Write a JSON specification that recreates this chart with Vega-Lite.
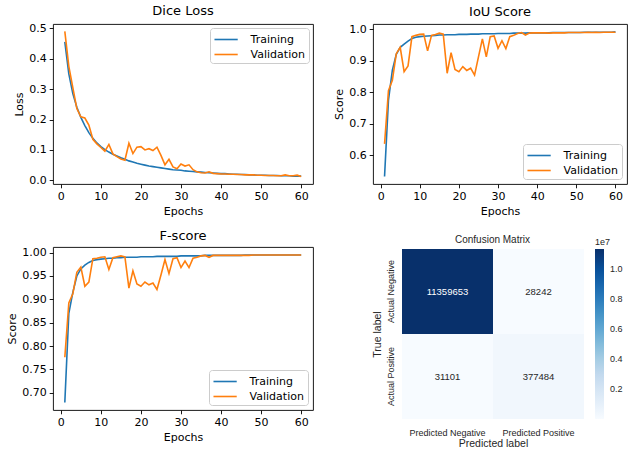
{
"$schema": "https://vega.github.io/schema/vega-lite/v6.json",
"padding": {"left": 6, "top": 4, "right": 0, "bottom": 0},
"background": "white",
"config": {
  "view": {"stroke": "black", "strokeWidth": 0.9},
  "axis": {"domain": false, "grid": false, "tickColor": "black", "tickSize": 3.8, "tickWidth": 0.9, "labelFont": "DejaVu Sans", "labelFontSize": 11, "labelColor": "black", "titleFont": "DejaVu Sans", "titleFontSize": 11, "titleFontWeight": "normal", "titleColor": "black", "labelPadding": 3, "titlePadding": 4},
  "title": {"font": "DejaVu Sans", "fontSize": 13, "fontWeight": "normal", "color": "black", "offset": 4},
  "style": {"guide-title": {"fontWeight": "normal"}, "group-title": {"fontWeight": "normal"}},
  "legend": {"title": null, "offset": 4, "fillColor": "white", "strokeColor": "#cccccc", "cornerRadius": 3, "padding": 3.5, "symbolType": "M-1.66,0H1.66", "symbolSize": 196, "symbolStrokeWidth": 1.6, "symbolOffset": 4.6, "labelFont": "DejaVu Sans", "labelFontSize": 11, "labelColor": "black", "rowPadding": 2, "labelOffset": 16.5},
  "line": {"strokeWidth": 1.6}
},
"datasets": {
  "dice": [
    {"epoch":1,"Training":0.455,"Validation":0.490},{"epoch":2,"Training":0.350,"Validation":0.375},{"epoch":3,"Training":0.285,"Validation":0.305},{"epoch":4,"Training":0.240,"Validation":0.236},{"epoch":5,"Training":0.207,"Validation":0.209},{"epoch":6,"Training":0.180,"Validation":0.205},{"epoch":7,"Training":0.157,"Validation":0.182},{"epoch":8,"Training":0.138,"Validation":0.135},{"epoch":9,"Training":0.123,"Validation":0.120},{"epoch":10,"Training":0.111,"Validation":0.108},
    {"epoch":11,"Training":0.101,"Validation":0.096},{"epoch":12,"Training":0.093,"Validation":0.118},{"epoch":13,"Training":0.086,"Validation":0.087},{"epoch":14,"Training":0.080,"Validation":0.078},{"epoch":15,"Training":0.074,"Validation":0.070},{"epoch":16,"Training":0.069,"Validation":0.066},{"epoch":17,"Training":0.064,"Validation":0.122},{"epoch":18,"Training":0.060,"Validation":0.088},{"epoch":19,"Training":0.056,"Validation":0.109},{"epoch":20,"Training":0.053,"Validation":0.111},
    {"epoch":21,"Training":0.050,"Validation":0.100},{"epoch":22,"Training":0.047,"Validation":0.104},{"epoch":23,"Training":0.045,"Validation":0.098},{"epoch":24,"Training":0.043,"Validation":0.109},{"epoch":25,"Training":0.041,"Validation":0.082},{"epoch":26,"Training":0.039,"Validation":0.051},{"epoch":27,"Training":0.037,"Validation":0.069},{"epoch":28,"Training":0.035,"Validation":0.044},{"epoch":29,"Training":0.034,"Validation":0.038},{"epoch":30,"Training":0.033,"Validation":0.054},
    {"epoch":31,"Training":0.031,"Validation":0.047},{"epoch":32,"Training":0.030,"Validation":0.051},{"epoch":33,"Training":0.029,"Validation":0.035},{"epoch":34,"Training":0.028,"Validation":0.028},{"epoch":35,"Training":0.027,"Validation":0.025},{"epoch":36,"Training":0.026,"Validation":0.024},{"epoch":37,"Training":0.025,"Validation":0.028},{"epoch":38,"Training":0.024,"Validation":0.023},{"epoch":39,"Training":0.023,"Validation":0.022},{"epoch":40,"Training":0.022,"Validation":0.021},
    {"epoch":41,"Training":0.022,"Validation":0.021},{"epoch":42,"Training":0.021,"Validation":0.020},{"epoch":43,"Training":0.020,"Validation":0.020},{"epoch":44,"Training":0.020,"Validation":0.019},{"epoch":45,"Training":0.019,"Validation":0.019},{"epoch":46,"Training":0.019,"Validation":0.018},{"epoch":47,"Training":0.018,"Validation":0.018},{"epoch":48,"Training":0.018,"Validation":0.018},{"epoch":49,"Training":0.017,"Validation":0.017},{"epoch":50,"Training":0.017,"Validation":0.017},
    {"epoch":51,"Training":0.017,"Validation":0.016},{"epoch":52,"Training":0.016,"Validation":0.016},{"epoch":53,"Training":0.016,"Validation":0.016},{"epoch":54,"Training":0.016,"Validation":0.015},{"epoch":55,"Training":0.015,"Validation":0.015},{"epoch":56,"Training":0.015,"Validation":0.018},{"epoch":57,"Training":0.015,"Validation":0.015},{"epoch":58,"Training":0.014,"Validation":0.015},{"epoch":59,"Training":0.014,"Validation":0.017},{"epoch":60,"Training":0.014,"Validation":0.013}
  ],
  "iou": [
    {"epoch":1,"Training":0.533,"Validation":0.636},{"epoch":2,"Training":0.775,"Validation":0.805},{"epoch":3,"Training":0.870,"Validation":0.838},{"epoch":4,"Training":0.920,"Validation":0.922},{"epoch":5,"Training":0.942,"Validation":0.942},{"epoch":6,"Training":0.952,"Validation":0.865},{"epoch":7,"Training":0.962,"Validation":0.883},{"epoch":8,"Training":0.970,"Validation":0.976},{"epoch":9,"Training":0.974,"Validation":0.980},{"epoch":10,"Training":0.976,"Validation":0.983},
    {"epoch":11,"Training":0.977,"Validation":0.984},{"epoch":12,"Training":0.978,"Validation":0.931},{"epoch":13,"Training":0.979,"Validation":0.980},{"epoch":14,"Training":0.980,"Validation":0.983},{"epoch":15,"Training":0.981,"Validation":0.987},{"epoch":16,"Training":0.981,"Validation":0.984},{"epoch":17,"Training":0.982,"Validation":0.860},{"epoch":18,"Training":0.982,"Validation":0.925},{"epoch":19,"Training":0.982,"Validation":0.872},{"epoch":20,"Training":0.983,"Validation":0.865},
    {"epoch":21,"Training":0.983,"Validation":0.881},{"epoch":22,"Training":0.983,"Validation":0.869},{"epoch":23,"Training":0.984,"Validation":0.876},{"epoch":24,"Training":0.984,"Validation":0.854},{"epoch":25,"Training":0.984,"Validation":0.912},{"epoch":26,"Training":0.985,"Validation":0.969},{"epoch":27,"Training":0.985,"Validation":0.912},{"epoch":28,"Training":0.985,"Validation":0.976},{"epoch":29,"Training":0.985,"Validation":0.978},{"epoch":30,"Training":0.986,"Validation":0.939},
    {"epoch":31,"Training":0.986,"Validation":0.963},{"epoch":32,"Training":0.986,"Validation":0.938},{"epoch":33,"Training":0.986,"Validation":0.976},{"epoch":34,"Training":0.987,"Validation":0.980},{"epoch":35,"Training":0.987,"Validation":0.986},{"epoch":36,"Training":0.987,"Validation":0.989},{"epoch":37,"Training":0.987,"Validation":0.981},{"epoch":38,"Training":0.988,"Validation":0.987},{"epoch":39,"Training":0.988,"Validation":0.988},{"epoch":40,"Training":0.988,"Validation":0.988},
    {"epoch":41,"Training":0.988,"Validation":0.988},{"epoch":42,"Training":0.988,"Validation":0.988},{"epoch":43,"Training":0.988,"Validation":0.987},{"epoch":44,"Training":0.989,"Validation":0.988},{"epoch":45,"Training":0.989,"Validation":0.988},{"epoch":46,"Training":0.989,"Validation":0.988},{"epoch":47,"Training":0.989,"Validation":0.988},{"epoch":48,"Training":0.989,"Validation":0.989},{"epoch":49,"Training":0.989,"Validation":0.989},{"epoch":50,"Training":0.989,"Validation":0.989},
    {"epoch":51,"Training":0.989,"Validation":0.989},{"epoch":52,"Training":0.990,"Validation":0.989},{"epoch":53,"Training":0.990,"Validation":0.990},{"epoch":54,"Training":0.990,"Validation":0.989},{"epoch":55,"Training":0.990,"Validation":0.990},{"epoch":56,"Training":0.990,"Validation":0.989},{"epoch":57,"Training":0.990,"Validation":0.990},{"epoch":58,"Training":0.990,"Validation":0.990},{"epoch":59,"Training":0.990,"Validation":0.990},{"epoch":60,"Training":0.991,"Validation":0.990}
  ],
  "fscore": [
    {"epoch":1,"Training":0.679,"Validation":0.776},{"epoch":2,"Training":0.870,"Validation":0.892},{"epoch":3,"Training":0.915,"Validation":0.912},{"epoch":4,"Training":0.950,"Validation":0.958},{"epoch":5,"Training":0.965,"Validation":0.969},{"epoch":6,"Training":0.973,"Validation":0.928},{"epoch":7,"Training":0.979,"Validation":0.937},{"epoch":8,"Training":0.983,"Validation":0.987},{"epoch":9,"Training":0.985,"Validation":0.988},{"epoch":10,"Training":0.986,"Validation":0.990},
    {"epoch":11,"Training":0.987,"Validation":0.991},{"epoch":12,"Training":0.988,"Validation":0.964},{"epoch":13,"Training":0.988,"Validation":0.989},{"epoch":14,"Training":0.989,"Validation":0.991},{"epoch":15,"Training":0.989,"Validation":0.993},{"epoch":16,"Training":0.990,"Validation":0.991},{"epoch":17,"Training":0.990,"Validation":0.924},{"epoch":18,"Training":0.990,"Validation":0.961},{"epoch":19,"Training":0.990,"Validation":0.933},{"epoch":20,"Training":0.991,"Validation":0.928},
    {"epoch":21,"Training":0.991,"Validation":0.937},{"epoch":22,"Training":0.991,"Validation":0.931},{"epoch":23,"Training":0.991,"Validation":0.935},{"epoch":24,"Training":0.992,"Validation":0.921},{"epoch":25,"Training":0.992,"Validation":0.952},{"epoch":26,"Training":0.992,"Validation":0.985},{"epoch":27,"Training":0.992,"Validation":0.955},{"epoch":28,"Training":0.992,"Validation":0.987},{"epoch":29,"Training":0.992,"Validation":0.989},{"epoch":30,"Training":0.993,"Validation":0.968},
    {"epoch":31,"Training":0.993,"Validation":0.982},{"epoch":32,"Training":0.993,"Validation":0.968},{"epoch":33,"Training":0.993,"Validation":0.988},{"epoch":34,"Training":0.993,"Validation":0.990},{"epoch":35,"Training":0.993,"Validation":0.993},{"epoch":36,"Training":0.994,"Validation":0.994},{"epoch":37,"Training":0.994,"Validation":0.990},{"epoch":38,"Training":0.994,"Validation":0.994},{"epoch":39,"Training":0.994,"Validation":0.994},{"epoch":40,"Training":0.994,"Validation":0.994},
    {"epoch":41,"Training":0.994,"Validation":0.994},{"epoch":42,"Training":0.994,"Validation":0.994},{"epoch":43,"Training":0.994,"Validation":0.994},{"epoch":44,"Training":0.994,"Validation":0.994},{"epoch":45,"Training":0.994,"Validation":0.994},{"epoch":46,"Training":0.995,"Validation":0.994},{"epoch":47,"Training":0.995,"Validation":0.994},{"epoch":48,"Training":0.995,"Validation":0.995},{"epoch":49,"Training":0.995,"Validation":0.995},{"epoch":50,"Training":0.995,"Validation":0.995},
    {"epoch":51,"Training":0.995,"Validation":0.995},{"epoch":52,"Training":0.995,"Validation":0.995},{"epoch":53,"Training":0.995,"Validation":0.995},{"epoch":54,"Training":0.995,"Validation":0.995},{"epoch":55,"Training":0.995,"Validation":0.995},{"epoch":56,"Training":0.995,"Validation":0.995},{"epoch":57,"Training":0.995,"Validation":0.995},{"epoch":58,"Training":0.995,"Validation":0.995},{"epoch":59,"Training":0.995,"Validation":0.995},{"epoch":60,"Training":0.995,"Validation":0.995}
  ],
  "cm": [
    {"actual":"Actual Negative","pred":"Predicted Negative","count":11359653},
    {"actual":"Actual Negative","pred":"Predicted Positive","count":28242},
    {"actual":"Actual Positive","pred":"Predicted Negative","count":31101},
    {"actual":"Actual Positive","pred":"Predicted Positive","count":377484}
  ]
},
"columns": 2,
"spacing": {"row": 63, "column": 60},
"bounds": "flush",
"resolve": {"scale": {"x": "independent", "y": "independent", "color": "independent"}, "legend": {"color": "independent"}, "axis": {"x": "independent", "y": "independent"}},
"concat": [
  {
    "width": 260, "height": 160, "title": {"text": "Dice Loss", "fontWeight": "normal"},
    "data": {"name": "dice"},
    "transform": [{"fold": ["Training", "Validation"], "as": ["series", "value"]}],
    "mark": {"type": "line"},
    "encoding": {
      "x": {"field": "epoch", "type": "quantitative", "scale": {"domain": [-1.95, 62.95], "nice": false, "zero": false}, "axis": {"values": [0,10,20,30,40,50,60], "title": "Epochs", "titleFontWeight": "normal"}},
      "y": {"field": "value", "type": "quantitative", "scale": {"domain": [-0.012, 0.514], "nice": false, "zero": false}, "axis": {"values": [0,0.1,0.2,0.3,0.4,0.5], "format": ".1f", "title": "Loss", "titleFontWeight": "normal"}},
      "color": {"field": "series", "type": "nominal", "scale": {"domain": ["Training","Validation"], "range": ["#1f77b4","#ff7f0e"]}, "legend": {"orient": "top-right"}}
    }
  },
  {
    "width": 254, "height": 160, "title": {"text": "IoU Score", "fontWeight": "normal"},
    "data": {"name": "iou"},
    "transform": [{"fold": ["Training", "Validation"], "as": ["series", "value"]}],
    "mark": {"type": "line"},
    "encoding": {
      "x": {"field": "epoch", "type": "quantitative", "scale": {"domain": [-1.95, 62.95], "nice": false, "zero": false}, "axis": {"values": [0,10,20,30,40,50,60], "title": "Epochs", "titleFontWeight": "normal"}},
      "y": {"field": "value", "type": "quantitative", "scale": {"domain": [0.509, 1.016], "nice": false, "zero": false}, "axis": {"values": [0.6,0.7,0.8,0.9,1.0], "format": ".1f", "title": "Score", "titleFontWeight": "normal"}},
      "color": {"field": "series", "type": "nominal", "scale": {"domain": ["Training","Validation"], "range": ["#1f77b4","#ff7f0e"]}, "legend": {"orient": "bottom-right", "offset": 5}}
    }
  },
  {
    "width": 260, "height": 163, "title": {"text": "F-score", "fontWeight": "normal"},
    "data": {"name": "fscore"},
    "transform": [{"fold": ["Training", "Validation"], "as": ["series", "value"]}],
    "mark": {"type": "line"},
    "encoding": {
      "x": {"field": "epoch", "type": "quantitative", "scale": {"domain": [-1.95, 62.95], "nice": false, "zero": false}, "axis": {"values": [0,10,20,30,40,50,60], "title": "Epochs", "titleFontWeight": "normal"}},
      "y": {"field": "value", "type": "quantitative", "scale": {"domain": [0.663, 1.012], "nice": false, "zero": false}, "axis": {"values": [0.70,0.75,0.80,0.85,0.90,0.95,1.00], "format": ".2f", "title": "Score", "titleFontWeight": "normal"}},
      "color": {"field": "series", "type": "nominal", "scale": {"domain": ["Training","Validation"], "range": ["#1f77b4","#ff7f0e"]}, "legend": {"orient": "bottom-right", "offset": 5}}
    }
  },
  {
    "width": 211, "height": 172,
    "title": {"text": "Confusion Matrix", "font": "Liberation Sans", "fontSize": 10, "fontWeight": "normal", "color": "#262626", "frame": "group", "dx": 14, "offset": -7},
    "data": {"name": "cm"},
    "view": {"stroke": null},
    "encoding": {
      "x": {"field": "pred", "type": "nominal", "sort": ["Predicted Negative","Predicted Positive"], "scale": {"range": [29, 211], "paddingInner": 0, "paddingOuter": 0},
            "axis": {"title": "Predicted label", "labelAngle": 0, "ticks": false, "labelPadding": 9, "labelFont": "Liberation Sans", "labelFontSize": 9, "labelColor": "#262626", "titleFont": "Liberation Sans", "titleFontSize": 10.5, "titleFontWeight": "normal", "titleColor": "#262626", "titlePadding": 1}},
      "y": {"field": "actual", "type": "nominal", "sort": ["Actual Negative","Actual Positive"], "scale": {"range": [2, 172], "paddingInner": 0, "paddingOuter": 0},
            "axis": {"title": "True label", "offset": -29, "labelAngle": 270, "labelAlign": "center", "labelBaseline": "alphabetic", "ticks": false, "labelPadding": 9, "labelFont": "Liberation Sans", "labelFontSize": 9, "labelColor": "#262626", "titleFont": "Liberation Sans", "titleFontSize": 10.5, "titleFontWeight": "normal", "titleColor": "#262626", "titlePadding": 4}}
    },
    "layer": [
      {"mark": {"type": "rect"},
       "encoding": {"color": {"field": "count", "type": "quantitative",
          "scale": {"domain": [28242, 11359653], "range": ["#f7fbff","#deebf7","#c6dbef","#9ecae1","#6baed6","#4292c6","#2171b5","#08519c","#08306b"]},
          "legend": {"orient": "none", "legendX": 222, "legendY": -9, "title": "1e7", "titleFont": "Liberation Sans", "titleFontSize": 9, "titleFontWeight": "normal", "titleColor": "#262626", "titlePadding": 2, "gradientLength": 170, "gradientThickness": 9, "gradientStrokeWidth": 0, "direction": "vertical", "values": [2000000,4000000,6000000,8000000,10000000], "labelExpr": "format(datum.value/10000000, '.1f')", "labelFont": "Liberation Sans", "labelFontSize": 9, "labelColor": "#262626", "labelOffset": 6, "fillColor": "transparent", "strokeColor": "transparent", "padding": 0}}}},
      {"mark": {"type": "text", "font": "Liberation Sans", "fontSize": 9.5},
       "encoding": {"text": {"field": "count", "type": "quantitative", "format": "d"},
          "color": {"condition": {"test": "datum.count > 5000000", "value": "white"}, "value": "#262626"}}}
    ]
  }
]
}
